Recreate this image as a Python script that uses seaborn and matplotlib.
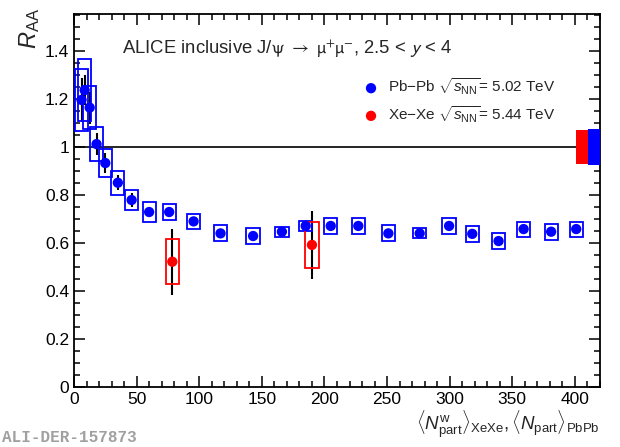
import matplotlib
matplotlib.use("Agg")
import matplotlib.pyplot as plt
from matplotlib.patches import Rectangle
from matplotlib.ticker import MultipleLocator
import seaborn as sns
import pandas as pd

# Pb-Pb, sqrt(sNN) = 5.02 TeV
pb_npart = [6, 8.5, 12.5, 18, 25, 35, 46, 60, 76, 95.5, 117, 143, 166, 185,
            205, 227, 251, 276, 299.5, 318, 339, 359, 381, 401]
pb_raa = [1.196, 1.237, 1.164, 1.012, 0.933, 0.851, 0.779, 0.729, 0.729, 0.69,
          0.64, 0.629, 0.647, 0.671, 0.671, 0.671, 0.64, 0.64, 0.671, 0.638,
          0.608, 0.658, 0.647, 0.658]
pb_stat = [0.09, 0.062, 0.067, 0.047, 0.042, 0.031, 0.03, 0.018, 0.015, 0.012,
           0.012, 0.012, 0.012, 0.012, 0.012, 0.012, 0.012, 0.012, 0.012, 0.012,
           0.012, 0.012, 0.012, 0.012]
pb_sys = [0.13, 0.13, 0.09, 0.072, 0.06, 0.05, 0.043, 0.04, 0.033, 0.032,
          0.033, 0.033, 0.021, 0.022, 0.033, 0.033, 0.033, 0.021, 0.032, 0.033,
          0.033, 0.031, 0.033, 0.031]

# Xe-Xe, sqrt(sNN) = 5.44 TeV
xe_npart = [78.5, 190]
xe_raa = [0.522, 0.592]
xe_stat = [0.137, 0.142]
xe_sys = [0.094, 0.096]

# global normalisation uncertainties
norm_xe = 0.07
norm_pb = 0.074

pb = pd.DataFrame({"npart": pb_npart, "raa": pb_raa, "stat": pb_stat, "sys": pb_sys})
xe = pd.DataFrame({"npart": xe_npart, "raa": xe_raa, "stat": xe_stat, "sys": xe_sys})

blue = "#0000ff"
red = "#ff0000"

sns.set_style("ticks")
plt.rcParams['font.family'] = ['Liberation Sans', 'DejaVu Sans']
plt.rcParams['mathtext.fontset'] = 'custom'
plt.rcParams['mathtext.rm'] = 'Liberation Sans'
plt.rcParams['mathtext.it'] = 'Liberation Sans:italic'
plt.rcParams['mathtext.bf'] = 'Liberation Sans:bold'

fig = plt.figure(figsize=(6.2, 4.47), dpi=100)
ax = fig.add_axes([74 / 620, 1 - 387 / 447, 526 / 620, 373 / 447])

ax.axhline(1, color="k", lw=1.2, zorder=1)

hw = 5.3
for df, col in [(pb, blue), (xe, red)]:
    for _, r in df.iterrows():
        ax.add_patch(Rectangle((r.npart - hw, r.raa - r.sys), 2 * hw, 2 * r.sys,
                               fill=False, edgecolor=col, lw=1.3, zorder=3))
    ax.errorbar(df.npart, df.raa, yerr=df.stat, fmt="none", ecolor="k",
                elinewidth=1.5, capsize=0, zorder=2)

sns.scatterplot(data=pb, x="npart", y="raa", color=blue, s=55, edgecolor="none",
                ax=ax, zorder=4,
                label=r"Pb$-$Pb $\sqrt{s_{\mathrm{NN}}}$= 5.02 TeV")
sns.scatterplot(data=xe, x="npart", y="raa", color=red, s=55, edgecolor="none",
                ax=ax, zorder=4,
                label=r"Xe$-$Xe $\sqrt{s_{\mathrm{NN}}}$= 5.44 TeV")

# normalisation boxes at unity
ax.add_patch(Rectangle((401, 1 - norm_xe), 9.4, 2 * norm_xe, color=red, lw=0, zorder=3))
ax.add_patch(Rectangle((410.4, 1 - norm_pb), 9.6, 2 * norm_pb, color=blue, lw=0, zorder=3))

ax.set_xlim(0, 420)
ax.set_ylim(0, 1.554)
ax.xaxis.set_major_locator(MultipleLocator(50))
ax.xaxis.set_minor_locator(MultipleLocator(10))
ax.yaxis.set_major_locator(MultipleLocator(0.2))
ax.yaxis.set_minor_locator(MultipleLocator(0.05))
ax.set_yticklabels([("0" if v == 0 else ("1" if abs(v - 1) < 1e-6 else f"{v:.1f}"))
                    for v in ax.get_yticks()])
ax.tick_params(which="both", direction="in", top=True, right=True, width=1.1,
               labelsize=12.5, colors="k")
ax.tick_params(which="major", length=8)
ax.tick_params(which="minor", length=4)
for s in ax.spines.values():
    s.set_linewidth(1.3)
    s.set_color("k")
ax.set_xlabel("")
ax.set_ylabel("")

ax.text(38, 1.405, r"ALICE inclusive J/$\mathrm{\psi}$ $\rightarrow$ $\mathrm{\mu^{+}\mu^{-}}$, 2.5 < $y$ < 4",
        fontsize=13.3, va="center", ha="left", math_fontfamily="stixsans")

ax.legend(loc="upper left", bbox_to_anchor=(0.524, 0.87), frameon=False,
          fontsize=11, handlelength=1.0, handletextpad=0.6, labelspacing=0.45,
          borderpad=0.4)

fig.text(30 / 620, 1 - 8 / 447, r"$R_{\mathrm{AA}}$", rotation=90, ha="center",
         va="top", fontsize=17)
fig.text(600 / 620, 1 - 440 / 447,
         r"$\langle N^{\mathrm{w}}_{\mathrm{part}}\rangle_{\mathrm{XeXe}}, \langle N_{\mathrm{part}}\rangle_{\mathrm{PbPb}}$",
         ha="right", va="bottom", fontsize=13.5)
fig.text(2 / 620, 1 - 438 / 447, "ALI-DER-157873", family="Liberation Mono",
         fontsize=11.5, color="#a0a0a0", ha="left", va="center", fontweight="bold")

fig.savefig("out.png", dpi=100)
